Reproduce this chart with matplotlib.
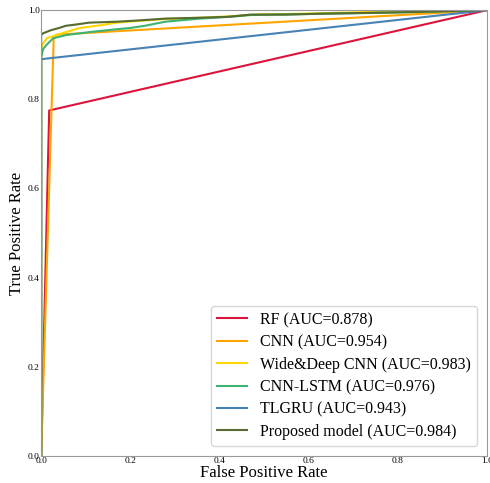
import matplotlib
matplotlib.use("Agg")
import matplotlib.pyplot as plt

plt.rcParams['font.family'] = ['Liberation Serif', 'DejaVu Serif']

labels = ["RF (AUC=0.878)", "CNN (AUC=0.954)", "Wide&Deep CNN (AUC=0.983)",
          "CNN-LSTM (AUC=0.976)", "TLGRU (AUC=0.943)", "Proposed model (AUC=0.984)"]
colors = ["#DC143C", "#FFA500", "#FFD700", "#3CB371", "#4682B4", "#556B2F"]

rf_fpr = [0.0, 0.018, 1.0]
rf_tpr = [0.0, 0.775, 1.0]

cnn_fpr = [0.0, 0.028, 0.034, 1.0]
cnn_tpr = [0.0, 0.935, 0.945, 1.0]

wd_fpr = [0.0, 0.0, 0.004, 0.013, 0.025, 0.034, 0.056, 0.087, 0.132, 0.17, 0.22, 0.278,
          0.356, 0.42, 0.48, 0.58, 0.7, 0.8, 1.0]
wd_tpr = [0.0, 0.915, 0.925, 0.937, 0.941, 0.944, 0.951, 0.960, 0.966, 0.972, 0.976, 0.980,
          0.983, 0.986, 0.990, 0.992, 0.995, 0.998, 1.0]

lstm_fpr = [0.0, 0.0, 0.004, 0.011, 0.027, 0.056, 0.11, 0.168, 0.2, 0.233, 0.278, 0.356,
            0.42, 0.47, 0.58, 0.7, 0.85, 1.0]
lstm_tpr = [0.0, 0.895, 0.912, 0.921, 0.937, 0.944, 0.951, 0.957, 0.960, 0.965, 0.974, 0.981,
            0.985, 0.989, 0.991, 0.993, 0.996, 1.0]

tl_fpr = [0.0, 0.0, 1.0]
tl_tpr = [0.0, 0.89, 1.0]

pm_fpr = [0.0, 0.0, 0.004, 0.022, 0.04, 0.056, 0.08, 0.108, 0.168, 0.22, 0.278, 0.356,
          0.42, 0.47, 0.55, 0.625, 0.8, 1.0]
pm_tpr = [0.0, 0.944, 0.948, 0.955, 0.960, 0.965, 0.968, 0.972, 0.974, 0.977, 0.981, 0.983,
          0.985, 0.990, 0.990, 0.992, 0.995, 1.0]

fig = plt.figure(figsize=(4.9, 4.83), dpi=100)
ax = fig.add_axes([0.084, 0.056, 0.91, 0.923])

ax.plot(rf_fpr, rf_tpr, color=colors[0], lw=1.5, label=labels[0])
ax.plot(cnn_fpr, cnn_tpr, color=colors[1], lw=1.5, label=labels[1])
ax.plot(wd_fpr, wd_tpr, color=colors[2], lw=1.5, label=labels[2])
ax.plot(lstm_fpr, lstm_tpr, color=colors[3], lw=1.5, label=labels[3])
ax.plot(tl_fpr, tl_tpr, color=colors[4], lw=1.5, label=labels[4])
ax.plot(pm_fpr, pm_tpr, color=colors[5], lw=1.5, label=labels[5])

ax.set_xlim(0, 1)
ax.set_ylim(0, 1)
ax.set_xticks([0.0, 0.2, 0.4, 0.6, 0.8, 1.0])
ax.set_yticks([0.0, 0.2, 0.4, 0.6, 0.8, 1.0])
ax.tick_params(length=0, labelsize=6.8, pad=1)
for s in ax.spines.values():
    s.set_color('#999999')
ax.set_xlabel("False Positive Rate", fontsize=12, labelpad=0)
ax.set_ylabel("True Positive Rate", fontsize=12, labelpad=2)
ax.legend(loc='lower right', fontsize=11.5, handlelength=1.9, frameon=True,
          borderaxespad=0.6, labelspacing=0.4)

fig.savefig("out.png", dpi=100)
